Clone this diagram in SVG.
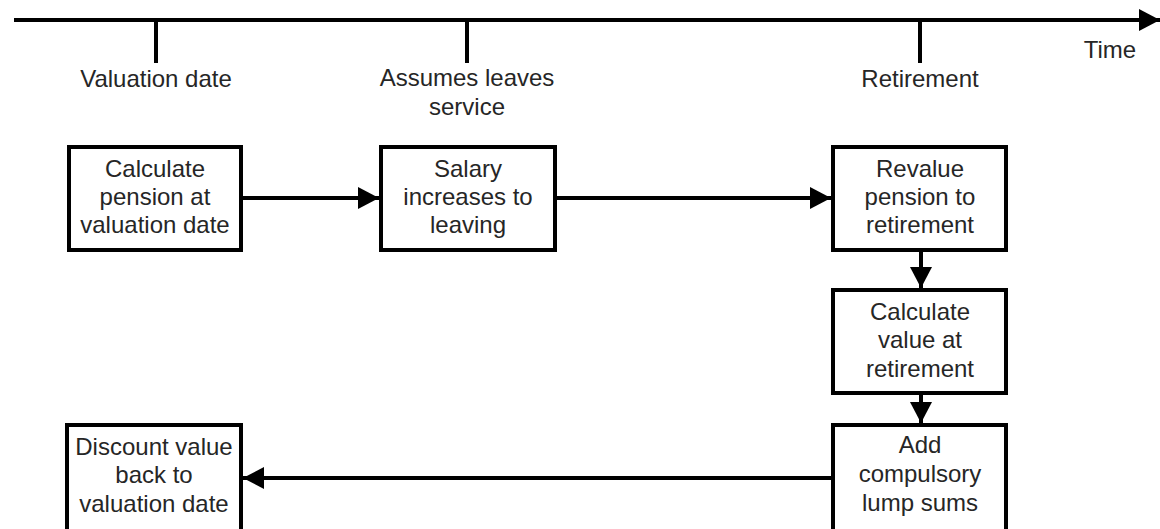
<svg xmlns="http://www.w3.org/2000/svg" width="1160" height="529" viewBox="0 0 1160 529">
<style>
  text { font-family: "Liberation Sans", Arial, sans-serif; font-size: 24px; fill: #262626; text-anchor: middle; }
  .box { fill: #ffffff; stroke: #000000; stroke-width: 4; }
  .conn { stroke: #000000; stroke-width: 4; fill: none; }
</style>
<defs>
  <marker id="arr" markerUnits="userSpaceOnUse" markerWidth="22" markerHeight="24" refX="21" refY="11" orient="auto" viewBox="0 0 22 22">
    <path d="M0,0 L21,11 L0,22 Z" fill="#000000"/>
  </marker>
</defs>
<g id="timeline">
  <line class="conn" x1="14" y1="20" x2="1160" y2="20" marker-end="url(#arr)"/>
  <line class="conn" x1="156" y1="20" x2="156" y2="63"/>
  <line class="conn" x1="467" y1="20" x2="467" y2="63"/>
  <line class="conn" x1="920" y1="20" x2="920" y2="63"/>
  <text x="1110" y="58">Time</text>
  <text x="156" y="87">Valuation date</text>
  <text x="467" y="86">Assumes leaves</text>
  <text x="467" y="115">service</text>
  <text x="920" y="87">Retirement</text>
</g>
<g id="connectors">
  <line class="conn" x1="243" y1="198" x2="379" y2="198" marker-end="url(#arr)"/>
  <line class="conn" x1="557" y1="198" x2="831" y2="198" marker-end="url(#arr)"/>
  <line class="conn" x1="921" y1="252" x2="921" y2="288" marker-end="url(#arr)"/>
  <line class="conn" x1="921" y1="395" x2="921" y2="423" marker-end="url(#arr)"/>
  <line class="conn" x1="831" y1="478" x2="243" y2="478" marker-end="url(#arr)"/>
</g>
<g id="calc-pension">
  <rect class="box" x="69" y="147" width="172" height="103"/>
  <text x="155" y="177">Calculate</text>
  <text x="155" y="205">pension at</text>
  <text x="155" y="233">valuation date</text>
</g>
<g id="salary-increases">
  <rect class="box" x="381" y="147" width="174" height="103"/>
  <text x="468" y="177">Salary</text>
  <text x="468" y="205">increases to</text>
  <text x="468" y="233">leaving</text>
</g>
<g id="revalue-pension">
  <rect class="box" x="833" y="147" width="173" height="103"/>
  <text x="920" y="177">Revalue</text>
  <text x="920" y="205">pension to</text>
  <text x="920" y="233">retirement</text>
</g>
<g id="calc-value">
  <rect class="box" x="833" y="290" width="173" height="103"/>
  <text x="920" y="320">Calculate</text>
  <text x="920" y="348">value at</text>
  <text x="920" y="377">retirement</text>
</g>
<g id="add-lump-sums">
  <rect class="box" x="833" y="425" width="173" height="112"/>
  <text x="920" y="453">Add</text>
  <text x="920" y="482">compulsory</text>
  <text x="920" y="511">lump sums</text>
</g>
<g id="discount-value">
  <rect class="box" x="67" y="425" width="174" height="112"/>
  <text x="154" y="455">Discount value</text>
  <text x="154" y="483">back to</text>
  <text x="154" y="512">valuation date</text>
</g>
</svg>
